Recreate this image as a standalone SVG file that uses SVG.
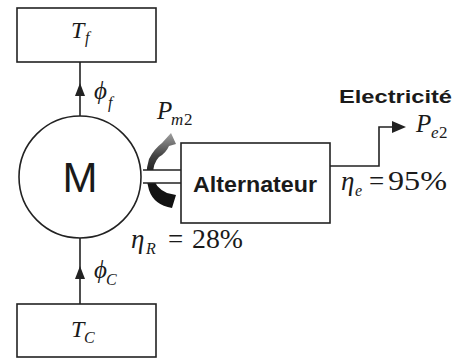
<svg xmlns="http://www.w3.org/2000/svg" width="464" height="359" viewBox="0 0 464 359">
<defs>
<style>
.box{fill:#fff;stroke:#222;stroke-width:1.6}
.ln{fill:none;stroke:#222;stroke-width:1.6}
.m{font-family:"Liberation Serif",serif;font-style:italic;fill:#1a1a1a}
.r{font-family:"Liberation Serif",serif;fill:#1a1a1a}
.b{font-family:"Liberation Sans",Arial,sans-serif;font-weight:bold;fill:#1a1a1a}
</style>
<linearGradient id="g" x1="0" y1="0" x2="0" y2="1">
<stop offset="0" stop-color="#a0a0a0"/>
<stop offset="0.3" stop-color="#444"/>
<stop offset="0.6" stop-color="#151515"/>
<stop offset="1" stop-color="#111"/>
</linearGradient>
</defs>
<rect width="464" height="359" fill="#fff"/>
<g id="connectors">
<line class="ln" x1="80" y1="62" x2="80" y2="116"/>
<polygon points="80,83 85,96 75,96" fill="#222"/>
<line class="ln" x1="80" y1="238" x2="80" y2="304"/>
<polygon points="80,266 85,279 75,279" fill="#222"/>
<polyline class="ln" points="330,166 379,166 379,127 393,127"/>
<polygon points="406,127 392,121 392,133" fill="#222"/>
<path d="M171,133 L176,144 L169,146 Q166,153 159,157 Q153,163 153,175 Q154,187 167,193 L176,195 L172,208 Q154,205 149,190 Q144,175 149,159 Q154,149 162,143 Z" fill="url(#g)"/>
<rect x="143" y="170" width="38" height="13" fill="#fff"/>
<line class="ln" x1="143" y1="170" x2="181" y2="170"/>
<line class="ln" x1="143" y1="183" x2="181" y2="183"/>
</g>
<g id="Tf">
<rect class="box" x="17" y="8" width="139" height="54"/>
<text class="m" x="71" y="38" font-size="24">T</text><text class="m" x="85" y="43" font-size="16">f</text>
</g>
<g id="M">
<circle class="box" cx="80" cy="177" r="61"/>
<text x="80" y="192" font-size="42" text-anchor="middle" font-family="Liberation Sans,Arial,sans-serif" fill="#1a1a1a">M</text>
</g>
<g id="Tc">
<rect class="box" x="17" y="304" width="139" height="53"/>
<text class="m" x="71" y="337" font-size="24">T</text><text class="m" x="84" y="343" font-size="16">C</text>
</g>
<g id="alt">
<rect class="box" x="181" y="143" width="149" height="80"/>
<text class="b" x="193" y="192" font-size="22" textLength="124" lengthAdjust="spacingAndGlyphs">Alternateur</text>
</g>
<g id="labels">
<text class="m" x="94" y="99" font-size="25">ϕ</text><text class="m" x="108" y="108" font-size="16">f</text>
<text class="m" x="94" y="278" font-size="25">ϕ</text><text class="m" x="106" y="285" font-size="16">C</text>
<text class="m" x="157" y="119" font-size="25">P</text><text class="m" x="171" y="125" font-size="17">m</text><text class="r" x="184" y="125" font-size="17">2</text>
<text class="b" x="339" y="103" font-size="19" textLength="113" lengthAdjust="spacingAndGlyphs">Electricité</text>
<text class="m" x="416" y="132" font-size="25">P</text><text class="m" x="431" y="138" font-size="17">e</text><text class="r" x="439" y="138" font-size="17">2</text>
<text class="m" x="341" y="190" font-size="27">η</text><text class="m" x="355" y="196" font-size="16">e</text><text class="r" x="369" y="190" font-size="27">=</text><text class="r" x="388" y="190" font-size="27" textLength="59" lengthAdjust="spacingAndGlyphs">95%</text>
<text class="m" x="131" y="248" font-size="27">η</text><text class="m" x="146" y="254" font-size="16">R</text><text class="r" x="168" y="248" font-size="27">=</text><text class="r" x="192" y="248" font-size="27" textLength="51" lengthAdjust="spacingAndGlyphs">28%</text>
</g>
</svg>
